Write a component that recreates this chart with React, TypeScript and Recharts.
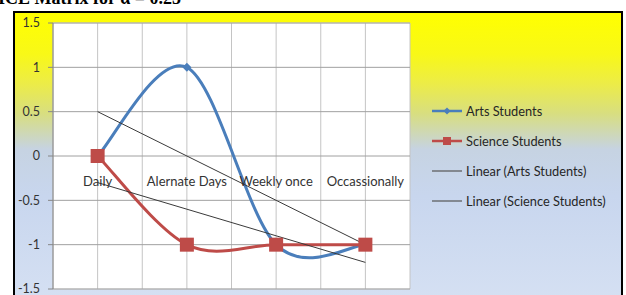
import React from "react";
import { LineChart, Line, XAxis, YAxis, CartesianGrid, Legend, ReferenceDot } from "recharts";

const categories = ["Daily", "Alernate Days", "Weekly once", "Occassionally"];
const artsStudents = [0, 1, -1, -1];
const scienceStudents = [0, -1, -1, -1];
const linearArts = [0.5, 0, -0.5, -1];
const linearScience = [-0.3, -0.6, -0.9, -1.2];

const majorTicks = [-1.5, -1, -0.5, 0, 0.5, 1, 1.5];
const minorTicks = [
  -1.5, -1.4, -1.3, -1.2, -1.1, -1, -0.9, -0.8, -0.7, -0.6, -0.5, -0.4, -0.3, -0.2, -0.1, 0,
  0.1, 0.2, 0.3, 0.4, 0.5, 0.6, 0.7, 0.8, 0.9, 1, 1.1, 1.2, 1.3, 1.4, 1.5,
];
const xGridTicks = [0.5, 1, 1.5, 2, 2.5, 3, 3.5, 4, 4.5];

const data = categories.map((name, i) => ({
  pos: i + 1,
  name,
  arts: artsStudents[i],
  science: scienceStudents[i],
  linArts: linearArts[i],
  linScience: linearScience[i],
}));

const FONT = "Lato, 'Open Sans', sans-serif";
const BLUE = "#4a7ebb";
const RED = "#be4b48";
const TREND = "#3a3a3a";

// Excel-style smoothed line (Catmull-Rom through the points)
const excelSmooth = (context: any) => {
  let pts: [number, number][] = [];
  return {
    areaStart() {},
    areaEnd() {},
    lineStart() {
      pts = [];
    },
    point(x: number, y: number) {
      pts.push([+x, +y]);
    },
    lineEnd() {
      const n = pts.length;
      if (!n) return;
      context.moveTo(pts[0][0], pts[0][1]);
      for (let i = 0; i < n - 1; i++) {
        const p0 = pts[i - 1] || pts[i];
        const p1 = pts[i];
        const p2 = pts[i + 1];
        const p3 = pts[i + 2] || pts[i + 1];
        context.bezierCurveTo(
          p1[0] + (p2[0] - p0[0]) / 6,
          p1[1] + (p2[1] - p0[1]) / 6,
          p2[0] - (p3[0] - p1[0]) / 6,
          p2[1] - (p3[1] - p1[1]) / 6,
          p2[0],
          p2[1]
        );
      }
    },
  };
};

const Diamond = (props: any) => {
  const { cx, cy } = props;
  if (cx == null || cy == null) return null;
  const s = 4.5;
  return <path d={`M${cx},${cy - s}L${cx + s},${cy}L${cx},${cy + s}L${cx - s},${cy}Z`} fill={BLUE} />;
};

const Square = (props: any) => {
  const { cx, cy } = props;
  if (cx == null || cy == null) return null;
  return <rect x={cx - 7} y={cy - 7} width={14} height={14} fill={RED} />;
};

const seriesOrder = ["arts", "science", "linArts", "linScience"];

const legendStyle: Record<string, { color: string; width: number; marker?: "diamond" | "square" }> = {
  arts: { color: BLUE, width: 2.5, marker: "diamond" },
  science: { color: RED, width: 2.5, marker: "square" },
  linArts: { color: "#555", width: 1.2 },
  linScience: { color: "#555", width: 1.2 },
};

const LegendContent = (props: any) => {
  const items = [...(props.payload || [])].sort(
    (a: any, b: any) => seriesOrder.indexOf(a.dataKey) - seriesOrder.indexOf(b.dataKey)
  );
  return (
    <div style={{ fontFamily: FONT, fontSize: 12.8, color: "#262626", width: 190 }}>
      {items.map((it: any) => {
        const st = legendStyle[it.dataKey] || { color: "#555", width: 1 };
        return (
          <div key={it.dataKey} style={{ height: 30, display: "flex", alignItems: "center" }}>
            <svg width={30} height={12} style={{ marginRight: 4 }}>
              <line x1={0} x2={30} y1={6} y2={6} stroke={st.color} strokeWidth={st.width} />
              {st.marker === "diamond" && <path d="M15,2.5L18.5,6L15,9.5L11.5,6Z" fill={st.color} />}
              {st.marker === "square" && <rect x={11} y={2} width={8} height={8} fill={st.color} />}
            </svg>
            <span style={{ whiteSpace: "nowrap" }}>{it.value}</span>
          </div>
        );
      })}
    </div>
  );
};

export default function App() {
  return (
    <div style={{ position: "absolute", left: 0, top: 0, width: 626, height: 295, overflow: "hidden", background: "#fff" }}>
      <div
        style={{
          position: "absolute",
          left: -2,
          top: -12,
          fontFamily: "'Liberation Serif', serif",
          fontWeight: "bold",
          fontSize: 18,
          whiteSpace: "nowrap",
          color: "#000",
        }}
      >
        ICE Matrix for α = 0.25
      </div>
      <div
        style={{
          position: "absolute",
          left: 13,
          top: 11,
          width: 610,
          height: 300,
          boxSizing: "border-box",
          border: "2px solid #000",
          background:
            "linear-gradient(to bottom, #ffff00 0%, #f8f818 14%, #ecec48 24%, #d8de80 34%, #c6d3e2 46%, #c8d6ee 62%, #d6e1f3 100%)",
        }}
      />
      <div style={{ position: "absolute", left: 0, top: 0 }}>
        <LineChart width={626} height={300} data={data} margin={{ top: 23, right: 26, bottom: 11, left: 0 }}>
          <XAxis dataKey="pos" type="number" domain={[0.5, 4.5]} ticks={xGridTicks} hide />
          <YAxis
            domain={[-1.5, 1.5]}
            ticks={majorTicks}
            interval={0}
            width={53}
            tickSize={5}
            tickMargin={8}
            axisLine={{ stroke: "#868686" }}
            tickLine={{ stroke: "#868686" }}
            tick={{ fill: "#333", fontSize: 12.5, fontFamily: FONT }}
          />
          <YAxis yAxisId="minor" domain={[-1.5, 1.5]} ticks={minorTicks} interval={0} hide />
          <CartesianGrid yAxisId="minor" vertical={false} stroke="#dcdcdc" fill="#fff" />
          <CartesianGrid horizontal={false} stroke="#c4c4c4" />
          <CartesianGrid vertical={false} stroke="#a0a0a0" />
          {data.map((d) => (
            <ReferenceDot
              key={d.name}
              x={d.pos}
              y={0}
              r={0}
              fill="none"
              stroke="none"
              label={{ value: d.name, position: "bottom", offset: 21, fill: "#333", fontSize: 13, fontFamily: FONT }}
            />
          ))}
          <Line
            dataKey="arts"
            name="Arts Students"
            type={excelSmooth as any}
            stroke={BLUE}
            strokeWidth={3}
            dot={<Diamond />}
            activeDot={false}
            isAnimationActive={false}
          />
          <Line
            dataKey="science"
            name="Science Students"
            type={excelSmooth as any}
            stroke={RED}
            strokeWidth={3}
            dot={<Square />}
            activeDot={false}
            isAnimationActive={false}
          />
          <Line
            dataKey="linArts"
            name="Linear (Arts Students)"
            type="linear"
            stroke={TREND}
            strokeWidth={1}
            dot={false}
            activeDot={false}
            isAnimationActive={false}
          />
          <Line
            dataKey="linScience"
            name="Linear (Science Students)"
            type="linear"
            stroke={TREND}
            strokeWidth={1}
            dot={false}
            activeDot={false}
            isAnimationActive={false}
          />
          <Legend
            content={<LegendContent />}
            layout="vertical"
            align="right"
            verticalAlign="middle"
            wrapperStyle={{ position: "absolute", left: 432, top: 96, width: 190 }}
          />
        </LineChart>
      </div>
    </div>
  );
}
